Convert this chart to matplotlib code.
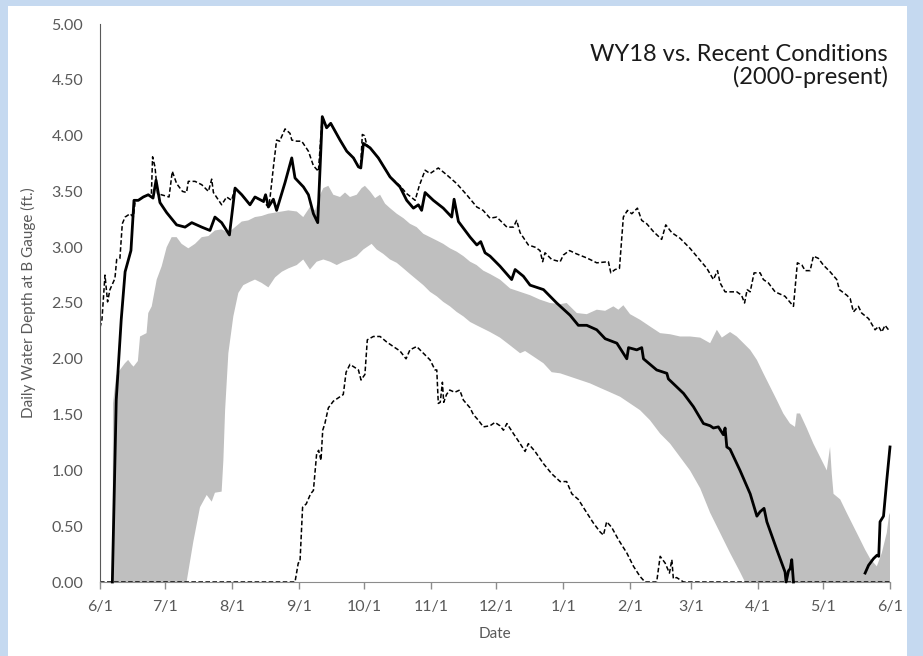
import matplotlib
matplotlib.use("Agg")
import matplotlib.pyplot as plt
from matplotlib.patches import Rectangle
import numpy as np
import pandas as pd

plt.rcParams['font.family'] = ['Lato', 'DejaVu Sans']

# days since 6/1/2017
wy18_day = [5.7, 7.5, 9.8, 11.6, 14.3, 15.7, 17.7, 20.0, 22.3, 24.5, 25.9, 27.7, 30.8, 35.4, 39.3,
            42.4, 47.0, 50.8, 53.1, 56.2, 59.8, 62.4, 65.5, 69.3, 71.6, 75.5, 76.5, 77.8, 80.1, 81.6,
            85.5, 88.6, 90.1, 94.0, 96.3, 98.6, 100.6, 102.7, 104.7, 106.6, 110.9, 114.0, 117.1, 119.4,
            120.5, 121.7, 124.8, 128.6, 134.0, 138.6, 141.7, 144.8, 147.1, 148.6, 150.2, 154.0, 158.6,
            162.5, 163.6, 165.6, 171.0, 174.1, 175.9, 177.9, 180.2, 184.8, 190.2, 191.8, 195.6, 198.7,
            204.9, 211.0, 217.2, 221.0, 224.9, 229.5, 233.4, 238.8, 243.4, 244.2, 248.0, 250.3, 251.1,
            257.2, 261.9, 262.6, 269.6, 274.2, 278.8, 281.9, 283.4, 285.7, 288.0, 288.8, 289.6, 291.1,
            295.7, 300.4, 303.5, 305.0, 306.8, 308.1, 312.7, 316.5, 317.0, 318.1, 318.9, 319.6, 320.4,
            np.nan, 353.5, 355.1, 357.4, 359.0, 359.8, 360.4, 362.0, 363.5, 365.0]
wy18_val = [0.00, 1.63, 2.35, 2.78, 2.97, 3.42, 3.42, 3.45, 3.47, 3.44, 3.60, 3.40, 3.31, 3.20, 3.18,
            3.22, 3.18, 3.15, 3.27, 3.22, 3.11, 3.53, 3.47, 3.38, 3.45, 3.41, 3.47, 3.36, 3.43, 3.33,
            3.58, 3.80, 3.62, 3.54, 3.47, 3.30, 3.22, 4.17, 4.07, 4.11, 3.96, 3.86, 3.80, 3.72,
            3.71, 3.93, 3.89, 3.80, 3.63, 3.54, 3.42, 3.35, 3.38, 3.33, 3.49, 3.42, 3.35,
            3.27, 3.43, 3.23, 3.09, 3.02, 3.05, 2.95, 2.92, 2.83, 2.71, 2.80, 2.74, 2.66,
            2.62, 2.50, 2.39, 2.30, 2.30, 2.26, 2.18, 2.14, 2.00, 2.10, 2.08, 2.10, 2.00,
            1.90, 1.87, 1.82, 1.69, 1.57, 1.42, 1.40, 1.38, 1.39, 1.32, 1.38, 1.21, 1.19,
            1.00, 0.79, 0.59, 0.63, 0.66, 0.54, 0.29, 0.09, 0.00, 0.10, 0.12, 0.20, 0.00,
            np.nan, 0.08, 0.15, 0.21, 0.24, 0.23, 0.54, 0.59, 0.91, 1.21]

max_day = [0.0, 0.9, 2.3, 3.5, 4.6, 6.9, 7.7, 9.2, 10.3, 11.6, 13.9, 15.4, 16.3, 17.7, 20.0, 22.3,
           23.7, 24.3, 25.4, 26.6, 28.4, 31.9, 33.4, 35.4, 38.1, 40.0, 40.8, 43.9, 47.0, 50.1, 51.6,
           52.4, 56.2, 58.5, 60.8, 62.4, 65.5, 69.3, 71.6, 75.5, 77.8, 78.6, 80.3, 81.6, 83.0, 85.5,
           87.8, 88.6, 90.9, 93.2, 96.3, 98.6, 100.9, 102.7, 104.7, 106.6, 110.9, 114.0, 117.1, 119.4,
           120.5, 121.2, 122.2, 123.2, 124.8, 128.6, 134.0, 138.6, 141.7, 145.6, 147.5, 150.2, 152.5,
           156.3, 160.1, 164.8, 169.4, 174.1, 177.0, 180.2, 183.3, 188.0, 191.0, 192.5, 194.1, 197.9,
           201.0, 203.3, 204.5, 205.6, 208.7, 212.6, 214.1, 216.9, 220.2, 224.1, 226.4, 229.5, 234.9,
           236.0, 238.0, 240.0, 241.8, 243.7, 245.7, 248.3, 250.3, 252.6, 255.7, 259.5, 261.4, 264.2,
           268.0, 272.6, 276.5, 280.4, 283.4, 285.3, 286.5, 288.8, 294.2, 296.4, 297.8, 299.0, 300.4,
           302.2, 305.0, 306.5, 308.8, 311.9, 316.5, 320.4, 322.2, 324.3, 325.8, 328.1, 329.6, 331.9,
           334.2, 337.3, 340.4, 341.6, 345.0, 346.6, 348.1, 350.4, 351.9, 355.1, 358.1, 359.7, 361.2,
           362.7, 364.7]
max_val = [2.28, 2.35, 2.75, 2.51, 2.62, 2.72, 2.89, 2.90, 3.21, 3.27, 3.30, 3.27, 3.42, 3.42, 3.45, 3.47,
           3.45, 3.81, 3.72, 3.48, 3.47, 3.45, 3.68, 3.57, 3.50, 3.49, 3.59, 3.59, 3.56, 3.50, 3.61,
           3.49, 3.38, 3.45, 3.42, 3.53, 3.47, 3.38, 3.45, 3.41, 3.36, 3.45, 3.75, 3.96, 3.95, 4.06,
           4.02, 3.96, 3.95, 3.95, 3.86, 3.73, 3.68, 4.17, 4.07, 4.11, 3.96, 3.86, 3.80, 3.72,
           3.75, 4.01, 4.00, 3.92, 3.89, 3.80, 3.63, 3.55, 3.48, 3.42, 3.55, 3.69, 3.66,
           3.71, 3.65, 3.57, 3.47, 3.36, 3.33, 3.26, 3.27, 3.18, 3.18, 3.24, 3.13, 3.02,
           3.00, 2.97, 2.87, 2.95, 2.89, 2.87, 2.93, 2.97, 2.94, 2.91, 2.89, 2.86, 2.87,
           2.77, 2.80, 2.81, 3.27, 3.33, 3.30, 3.35, 3.24, 3.21, 3.14, 3.07, 3.20, 3.13,
           3.08, 2.99, 2.90, 2.81, 2.71, 2.79, 2.68, 2.60, 2.60, 2.57, 2.50, 2.62, 2.60,
           2.77, 2.77, 2.71, 2.68, 2.60, 2.56, 2.47, 2.86, 2.84, 2.79, 2.79, 2.92, 2.90,
           2.84, 2.78, 2.71, 2.62, 2.57, 2.54, 2.42, 2.47, 2.41, 2.36, 2.26, 2.29, 2.24,
           2.30, 2.25]

min_day = [0.0, 90.1, 91.6, 92.4, 93.6, 95.3, 97.3, 98.6, 100.1, 101.0, 102.1, 102.9, 103.9, 105.5,
           107.8, 110.1, 112.4, 113.7, 115.5, 117.9, 119.4, 120.6, 122.4, 123.5, 126.3, 129.4, 132.5,
           135.5, 138.6, 141.4, 143.2, 146.3, 149.4, 152.5, 154.8, 155.6, 156.3, 157.2, 158.2, 158.8,
           160.1, 161.6, 163.9, 166.2, 167.9, 171.0, 172.5, 174.8, 177.1, 180.2, 182.5, 184.8, 186.4,
           188.0, 191.0, 194.1, 196.4, 197.9, 201.0, 204.9, 208.7, 212.6, 215.6, 218.0, 221.0, 224.1,
           227.9, 231.0, 232.6, 234.1, 236.4, 239.5, 243.4, 246.5, 249.5, 251.8, 257.2, 258.8, 261.1,
           263.1, 264.2, 264.9, 266.4, 269.6, 365.0]
min_val = [0.00, 0.00, 0.17, 0.18, 0.67, 0.70, 0.79, 0.82, 1.15, 1.18, 1.09, 1.36, 1.42, 1.56,
           1.62, 1.65, 1.68, 1.88, 1.95, 1.92, 1.90, 1.81, 1.86, 2.17, 2.20, 2.20, 2.15,
           2.11, 2.07, 2.00, 2.08, 2.11, 2.05, 1.99, 1.90, 1.90, 1.60, 1.61, 1.79, 1.61,
           1.68, 1.72, 1.70, 1.72, 1.63, 1.56, 1.50, 1.45, 1.39, 1.40, 1.43, 1.40, 1.36,
           1.42, 1.33, 1.24, 1.17, 1.24, 1.17, 1.06, 0.97, 0.90, 0.90, 0.79, 0.74, 0.645,
           0.53, 0.45, 0.42, 0.54, 0.49, 0.38, 0.26, 0.14, 0.05, 0.00, 0.00, 0.23, 0.17,
           0.08, 0.20, 0.03, 0.04, 0.00, 0.00]

band_hi_day = [0.0, 5.8, 6.0, 7.5, 9.2, 11.5, 13.0, 14.5, 15.5, 17.5, 18.5, 21.5, 22.3, 23.9, 26.2,
               28.5, 30.8, 33.1, 35.4, 37.7, 40.8, 43.9, 47.0, 50.1, 53.1, 56.2, 59.3, 62.4, 65.5,
               68.5, 71.6, 74.7, 77.8, 80.9, 84.0, 87.0, 90.9, 93.9, 97.0, 99.4, 101.7, 103.2, 105.5,
               107.8, 110.9, 113.2, 115.5, 118.6, 120.9, 122.4, 124.8, 127.1, 129.4, 131.7, 134.0,
               137.1, 140.2, 143.2, 146.3, 149.4, 152.5, 155.6, 158.6, 161.7, 164.8, 167.9, 171.0,
               174.0, 177.1, 180.2, 184.8, 189.5, 194.1, 198.7, 203.3, 207.9, 212.6, 215.6, 220.3,
               224.9, 229.5, 233.4, 237.2, 239.5, 241.8, 244.9, 249.5, 254.1, 258.8, 263.4, 268.0,
               272.6, 277.3, 281.9, 285.0, 287.3, 291.1, 294.2, 297.3, 300.4, 303.5, 306.5, 309.6,
               312.7, 315.7, 318.8, 321.1, 321.9, 323.4, 326.5, 329.6, 332.7, 335.8, 337.3, 338.1,
               338.9, 342.0, 345.0, 348.1, 351.2, 353.5, 355.8, 358.9, 361.2, 363.5, 364.7, 365.0]
band_hi_val = [0.00, 0.00, 1.60, 1.85, 1.90, 1.96, 1.99, 1.95, 1.93, 1.98, 2.20, 2.23, 2.41, 2.47, 2.71,
               2.83, 3.00, 3.09, 3.09, 3.03, 2.99, 3.03, 3.09, 3.10, 3.15, 3.16, 3.13, 3.18, 3.23,
               3.24, 3.27, 3.28, 3.30, 3.31, 3.32, 3.33, 3.32, 3.27, 3.36, 3.33, 3.47, 3.53, 3.55,
               3.47, 3.45, 3.49, 3.45, 3.47, 3.53, 3.55, 3.50, 3.44, 3.47, 3.39, 3.35,
               3.30, 3.26, 3.21, 3.18, 3.12, 3.09, 3.06, 3.03, 2.99, 2.96, 2.92, 2.87,
               2.84, 2.79, 2.76, 2.71, 2.63, 2.60, 2.57, 2.53, 2.50, 2.49, 2.50, 2.41,
               2.40, 2.44, 2.43, 2.47, 2.44, 2.48, 2.40, 2.35, 2.29, 2.23, 2.22, 2.20,
               2.20, 2.19, 2.14, 2.26, 2.19, 2.24, 2.20, 2.14, 2.08, 1.99, 1.87, 1.75,
               1.63, 1.51, 1.42, 1.39, 1.51, 1.51, 1.38, 1.24, 1.12, 1.00, 1.21, 0.97,
               0.79, 0.74, 0.62, 0.50, 0.38, 0.29, 0.21, 0.14, 0.26, 0.44, 0.62, 0.60]

band_lo_day = [0.0, 40.0, 43.1, 46.2, 49.3, 51.6, 53.1, 56.2, 57.0, 57.8, 59.3, 61.6, 63.9, 66.2, 69.3,
               71.6, 74.7, 77.8, 80.9, 84.0, 87.0, 90.9, 93.9, 97.0, 100.1, 103.2, 106.3, 109.4, 112.4,
               115.5, 118.6, 121.7, 125.5, 127.8, 130.9, 134.0, 137.1, 140.2, 143.2, 146.3, 149.4,
               152.5, 155.6, 158.6, 161.7, 164.8, 167.9, 171.0, 174.0, 177.1, 180.2, 184.8, 189.5,
               194.1, 196.4, 200.3, 204.9, 208.7, 212.6, 217.2, 221.8, 226.4, 231.0, 235.7, 240.3,
               244.9, 249.5, 254.1, 258.8, 263.4, 268.0, 272.6, 277.3, 281.9, 286.5, 291.1, 295.7,
               298.0, 365.0]
band_lo_val = [0.00, 0.00, 0.36, 0.67, 0.78, 0.72, 0.80, 0.81, 1.09, 1.54, 2.05, 2.38, 2.59, 2.66, 2.69,
               2.71, 2.68, 2.64, 2.73, 2.78, 2.81, 2.84, 2.89, 2.80, 2.87, 2.89, 2.87, 2.84, 2.87,
               2.89, 2.92, 2.98, 3.03, 2.98, 2.94, 2.89, 2.86, 2.81, 2.76, 2.71, 2.66,
               2.60, 2.56, 2.51, 2.47, 2.42, 2.38, 2.33, 2.30, 2.27, 2.24, 2.19, 2.12,
               2.05, 2.07, 2.02, 1.96, 1.88, 1.87, 1.84, 1.81, 1.78, 1.74, 1.70, 1.66,
               1.60, 1.54, 1.45, 1.33, 1.24, 1.12, 1.00, 0.84, 0.62, 0.44, 0.26, 0.09,
               0.00, 0.00]

start = pd.Timestamp("2017-06-01")
months = pd.date_range("2017-06-01", "2018-06-01", freq="MS")
tick_pos = [(m - start).days for m in months]
tick_lab = [f"{m.month}/1" for m in months]
y_ticks = np.arange(0, 5.01, 0.5)

fig = plt.figure(figsize=(9.23, 6.56), dpi=100)
fig.patch.set_facecolor("#c5d9f0")
# white chart panel on the blue frame
fig.patches.append(Rectangle((8 / 923, 0), 899 / 923, 650 / 656, transform=fig.transFigure,
                             facecolor="white", edgecolor="none", zorder=-10))
ax = fig.add_axes([100 / 923, 1 - 582 / 656, 790 / 923, 558 / 656])
ax.set_facecolor("none")

poly_x = np.r_[band_hi_day, band_lo_day[::-1]]
poly_y = np.r_[band_hi_val, band_lo_val[::-1]]
ax.fill(poly_x, poly_y, color="#bfbfbf", lw=0, zorder=1)

ax.plot(max_day, max_val, color="black", lw=1.1, ls=(0, (3, 1.6)), zorder=2)
ax.plot(min_day, min_val, color="black", lw=1.1, ls=(0, (3, 1.6)), zorder=2, clip_on=False)
ax.plot(wy18_day, wy18_val, color="black", lw=2.0, zorder=3, clip_on=False)

ax.set_xlim(0, 365)
ax.set_ylim(0, 5)
ax.set_xticks(tick_pos)
ax.set_xticklabels(tick_lab)
ax.set_yticks(y_ticks)
ax.set_yticklabels([f"{v:.2f}" for v in y_ticks])

for s in ["top", "right"]:
    ax.spines[s].set_visible(False)
ax.spines["left"].set_color("#595959")
ax.spines["bottom"].set_color("#8c8c8c")
ax.tick_params(axis="y", length=0, pad=12, labelsize=11.5, labelcolor="#595959")
ax.tick_params(axis="x", length=5, width=1, color="#8c8c8c", pad=8, labelsize=11.5,
               labelcolor="#595959")

ax.set_xlabel("Date", fontsize=11, color="#595959", labelpad=9)
ax.set_ylabel("Daily Water Depth at B Gauge (ft.)", fontsize=11, color="#595959", labelpad=11)

ax.text(0.9975, 0.964, "WY18 vs. Recent Conditions\n(2000-present)", transform=ax.transAxes,
        ha="right", va="top", fontsize=17, color="#1a1a1a", linespacing=1.05)

fig.savefig("out.png", dpi=100, facecolor=fig.get_facecolor())
